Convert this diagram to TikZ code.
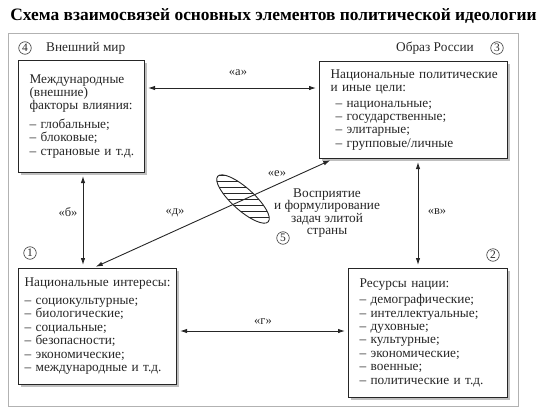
\documentclass[tikz,border=0pt]{standalone}
\usepackage{fontspec}
\setmainfont{Liberation Serif}
\usetikzlibrary{shadows,arrows.meta,calc}
\tikzset{
 box/.style={draw=black!85, line width=1.1pt, fill=white, align=left, anchor=north west, inner ysep=0pt,
   font=\fontsize{13.3}{13.4}\selectfont, text=black!85,
   drop shadow={shadow xshift=2pt, shadow yshift=-2pt, fill=black!25, opacity=1}},
 numc/.style={circle, draw=black!80, line width=0.6pt, inner sep=0pt, minimum size=12.5pt, font=\fontsize{11.5}{11.5}\selectfont, text=black!85},
 lbl/.style={font=\fontsize{12.5}{12.5}\selectfont, inner sep=1pt, text=black!85},
 hdr/.style={font=\fontsize{13.3}{14}\selectfont, inner sep=0pt, text=black!85},
 link/.style={{Latex[length=7pt,width=4.5pt]}-{Latex[length=7pt,width=4.5pt]}, line width=0.9pt, draw=black!85, shorten <=3pt, shorten >=3pt},
}
\begin{document}
\begin{tikzpicture}[x=1pt,y=-1pt]
\useasboundingbox (0,0) rectangle (550,418);
\node[font=\fontsize{17.4}{19}\selectfont\bfseries, inner sep=0pt] (title) at (273.5,16) {Схема взаимосвязей основных элементов политической идеологии};
\draw[black!30, line width=0.9pt] (8,33) rectangle (518,406);

\node[box, inner xsep=11pt, text width=104pt, minimum height=112pt] (n4) at (18,60)
 {\begin{tabular}{@{}l@{}}Международные\\(внешние)\\факторы влияния:\\[5pt]– глобальные;\\– блоковые;\\– страновые и т.д.\end{tabular}};
\node[box, inner xsep=11pt, text width=166pt, minimum height=97pt] (n3) at (319,61)
 {\begin{tabular}{@{}l@{}}Национальные политические\\и иные цели:\\[2pt]\hspace*{5pt}– национальные;\\\hspace*{5pt}– государственные;\\\hspace*{5pt}– элитарные;\\\hspace*{5pt}– групповые/личные\end{tabular}};
\node[box, inner xsep=6pt, text width=146pt, minimum height=116pt] (n1) at (18,268)
 {\begin{tabular}{@{}l@{}}Национальные интересы:\\[4pt]– социокультурные;\\– биологические;\\– социальные;\\– безопасности;\\– экономические;\\– международные и т.д.\end{tabular}};
\node[box, inner xsep=11pt, text width=137pt, minimum height=129pt] (n2) at (348,268)
 {\begin{tabular}{@{}l@{}}Ресурсы нации:\\[3pt]– демографические;\\– интеллектуальные;\\– духовные;\\– культурные;\\– экономические;\\– военные;\\– политические и т.д.\end{tabular}};

\node[numc] (c4) at (25,48) {4};
\node[hdr, anchor=west] (h4) at (46,48) {Внешний мир};
\node[hdr, anchor=east] (h3) at (474,48) {Образ России};
\node[numc] (c3) at (497,48) {3};
\node[numc] (c1) at (30,253) {1};
\node[numc] (c2) at (493,255) {2};
\node[numc] (c5) at (283,238) {5};

\node[align=center, font=\fontsize{13.3}{12.5}\selectfont, inner sep=0pt, text=black!85] (elite) at (327,213)
 {Восприятие\\и формулирование\\задач элитой\\страны};

\coordinate (a1) at ([yshift=-28pt]n4.north east);
\coordinate (b1) at ([xshift=65pt]n4.south west);
\coordinate (v1) at ([xshift=99pt]n3.south west);
\coordinate (g1) at ([yshift=-63pt]n1.north east);
\coordinate (d1) at ([xshift=75pt]n1.north west);
\coordinate (d2) at ([xshift=14pt]n3.south west);

\draw[link] (a1) -- (a1 -| n3.west);
\draw[link] (b1) -- (b1 |- n1.north);
\draw[link] (v1) -- (v1 |- n2.north);
\draw[link] (g1) -- (g1 -| n2.west);
\draw[link] (d1) -- (d2);

\begin{scope}
\clip[rotate around={-42:(243,199)}] (243,199) ellipse [x radius=34, y radius=11];
\foreach \yy in {169,175,...,229} \draw[line width=0.7pt, black!85] (200,\yy) -- (290,\yy);
\end{scope}
\draw[line width=0.9pt, black!85, rotate around={-42:(243,199)}] (243,199) ellipse [x radius=34, y radius=11];

\node[lbl] (la) at (238,73) {«а»};
\node[lbl] (lb) at (68,212) {«б»};
\node[lbl] (lv) at (437,212) {«в»};
\node[lbl] (lg) at (263,322) {«г»};
\node[lbl] (ld) at (175,213) {«д»};
\node[lbl] (le) at (277,174) {«е»};
\end{tikzpicture}
\end{document}
